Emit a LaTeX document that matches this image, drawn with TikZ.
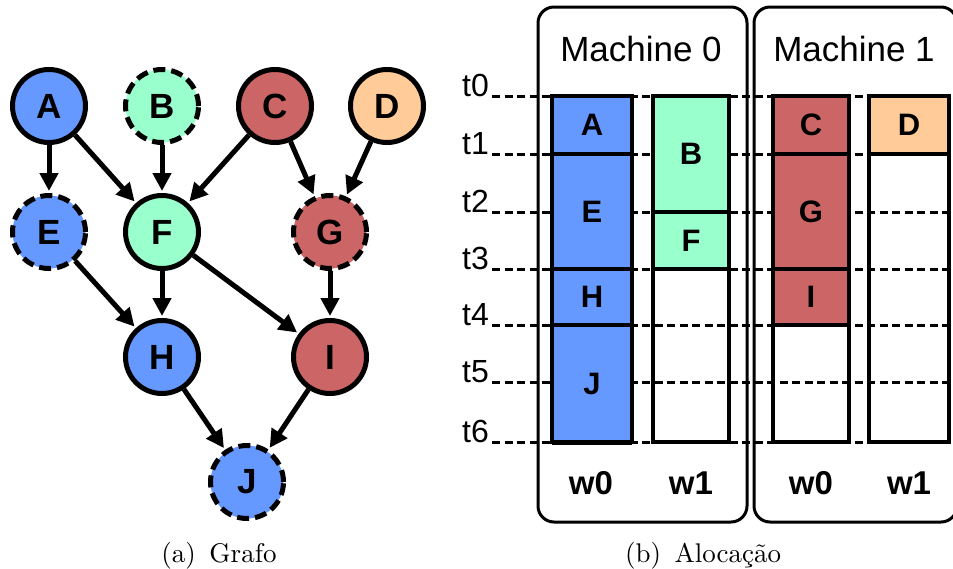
\documentclass[tikz,border=0pt]{standalone}
\usepackage{fontspec}
\newfontfamily\arial{Liberation Sans}
\newfontfamily\capfont{lmroman10-regular}[Extension=.otf]
\usetikzlibrary{arrows.meta}
\definecolor{cblue}{HTML}{6699FF}
\definecolor{cgreen}{HTML}{99FFCC}
\definecolor{cred}{HTML}{CC6666}
\definecolor{corange}{HTML}{FFCC99}
\begin{document}
\begin{tikzpicture}[x=1pt,y=-1pt,
  gnode/.style={circle, draw=black, line width=5pt, minimum size=73pt, inner sep=0pt,
    font=\arial\bfseries\fontsize{35}{38}\selectfont},
  dnode/.style={gnode, dash pattern=on 12pt off 6pt},
  edge/.style={line width=5pt, -{Triangle[length=18pt,width=18pt]}, shorten >=2pt},
  machine/.style={draw=black, line width=3pt, rounded corners=16pt},
  tline/.style={draw=black, line width=3pt, dash pattern=on 8pt off 4.5pt},
  tlbl/.style={inner sep=0pt, anchor=base east, font=\arial\fontsize{32}{34}\selectfont},
  mlbl/.style={inner sep=0pt, anchor=base, font=\arial\fontsize{35}{40}\selectfont},
  wlbl/.style={inner sep=0pt, anchor=base, font=\arial\bfseries\fontsize{33}{36}\selectfont},
  blk/.style={draw=black, line width=3.5pt, inner sep=0pt, minimum height=#1,
    font=\arial\bfseries\fontsize{31}{34}\selectfont},
  colbox/.style={draw=black, line width=3.5pt},
  caplbl/.style={inner sep=0pt, anchor=base, font=\capfont\fontsize{27}{30}\selectfont}]
\useasboundingbox (0,0) rectangle (953,568);
\clip (0,0) rectangle (953,568);

% ---------- (a) graph ----------
\node[gnode, fill=cblue]   (A) at (49,106) {A};
\node[dnode, fill=cgreen]  (B) at (162,106) {B};
\node[gnode, fill=cred]    (C) at (275,106) {C};
\node[gnode, fill=corange] (D) at (387,106) {D};
\node[dnode, fill=cblue]   (E) at (49,232) {E};
\node[gnode, fill=cgreen]  (F) at (162,232) {F};
\node[dnode, fill=cred]    (G) at (330,232) {G};
\node[gnode, fill=cblue]   (H) at (162,357) {H};
\node[gnode, fill=cred]    (I) at (330,357) {I};
\node[dnode, fill=cblue]   (J) at (247,482) {J};

\draw[edge] (A) -- (E);
\draw[edge] (A) -- (F);
\draw[edge] (B) -- (F);
\draw[edge] (C) -- (F);
\draw[edge] (C) -- (G);
\draw[edge] (D) -- (G);
\draw[edge] (E) -- (H);
\draw[edge] (F) -- (H);
\draw[edge] (F) -- (I);
\draw[edge] (G) -- (I);
\draw[edge] (H) -- (J);
\draw[edge] (I) -- (J);

\node[caplbl] (capa) at (219,562) {(a)\hspace{0.5em}Grafo};

% ---------- (b) allocation ----------
\draw[machine] (538,7) rectangle (747,522);
\draw[machine] (754,7) rectangle (957,522);
\node[mlbl] (m0) at (641,61) {Machine 0};
\node[mlbl] (m1) at (854,61) {Machine 1};

\foreach \i/\y in {0/96,1/154,2/212,3/269,4/325,5/382,6/442}{
  \node[tlbl] (t\i) at (489,\y) {t\i};
  \coordinate (e\i) at (953,\y);
  \draw[tline] ([xshift=3pt]t\i.base east) -- (e\i);
}

% Machine 0, w0
\node[blk=58pt,  minimum width=80pt, fill=cblue] (bA) at (592,125)   {A};
\node[blk=115pt, minimum width=80pt, fill=cblue] (bE) at (592,211.5) {E};
\node[blk=56pt,  minimum width=80pt, fill=cblue] (bH) at (592,297)   {H};
\node[blk=117pt, minimum width=80pt, fill=cblue] (bJ) at (592,383.5) {J};
% Machine 0, w1
\node[blk=116pt, minimum width=76pt, fill=cgreen] (bB) at (691,154)   {B};
\node[blk=57pt,  minimum width=76pt, fill=cgreen] (bF) at (691,240.5) {F};
% Machine 1, w0
\node[blk=58pt,  minimum width=76pt, fill=cred] (bC) at (811,125)   {C};
\node[blk=115pt, minimum width=76pt, fill=cred] (bG) at (811,211.5) {G};
\node[blk=56pt,  minimum width=76pt, fill=cred] (bI) at (811,297)   {I};
% Machine 1, w1
\node[blk=58pt,  minimum width=80pt, fill=corange] (bD) at (909,125) {D};

% column outlines
\draw[colbox] (552,96) rectangle (632,442);
\draw[colbox] (653,96) rectangle (729,442);
\draw[colbox] (773,96) rectangle (849,442);
\draw[colbox] (869,96) rectangle (949,442);
\draw[line width=5pt] (552,442) -- (632,442);

\node[wlbl] (w00) at (591,494) {w0};
\node[wlbl] (w01) at (691,494) {w1};
\node[wlbl] (w10) at (811,494) {w0};
\node[wlbl] (w11) at (909,494) {w1};

\node[caplbl] (capb) at (703,562) {(b)\hspace{0.5em}Alocação};
\end{tikzpicture}
\end{document}
